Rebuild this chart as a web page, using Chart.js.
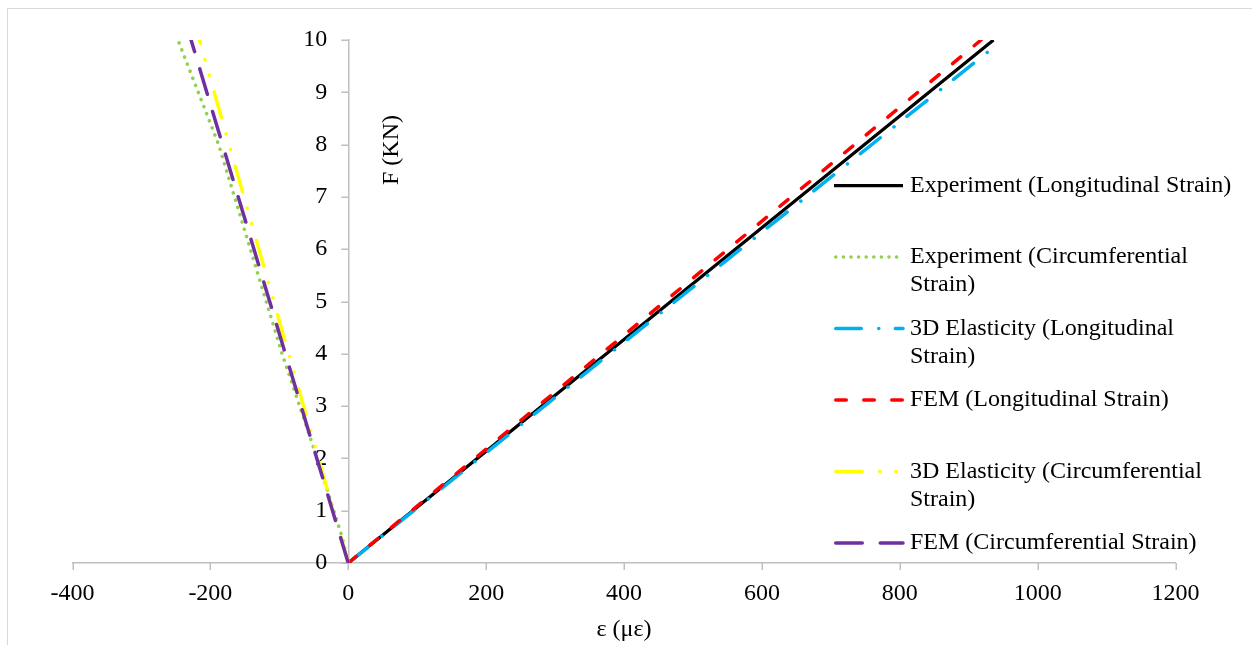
<!DOCTYPE html>
<html>
<head>
<meta charset="utf-8">
<title>F vs strain</title>
<script src="https://cdn.jsdelivr.net/npm/chart.js@4.4.1/dist/chart.umd.min.js"></script>
<style>
  html, body { margin: 0; padding: 0; background: #fff; }
  canvas { display: block; }
</style>
</head>
<body>
<canvas id="strainChart" width="1252" height="645"></canvas>
<script>
console.log("strain chart running");

// load in kN against strain in micro-strain
const expLongX = [0, 468, 936];
const expLongY = [0, 5, 10];
const expCircX = [0, -9, -45, -96, -142, -188, -247];
const expCircY = [0, 0.5, 2, 4, 6, 8, 10];
const elastLongX = [0, 474, 940];
const elastLongY = [0, 5, 9.9];
const femLongX = [0, 459, 918];
const femLongY = [0, 5, 10];
const elastCircX = [0, -108, -216];
const elastCircY = [0, 5, 10];
const femCircX = [0, -114, -228];
const femCircY = [0, 5, 10];

const xTicks = [-400, -200, 0, 200, 400, 600, 800, 1000, 1200];
const yTicks = [0, 1, 2, 3, 4, 5, 6, 7, 8, 9, 10];

const seriesNames = [
    ["Experiment (Longitudinal Strain)"],
    ["Experiment (Circumferential", "Strain)"],
    ["3D Elasticity (Longitudinal", "Strain)"],
    ["FEM (Longitudinal Strain)"],
    ["3D Elasticity (Circumferential", "Strain)"],
    ["FEM (Circumferential Strain)"]
];
const seriesX = [expLongX, expCircX, elastLongX, femLongX, elastCircX, femCircX];
const seriesY = [expLongY, expCircY, elastLongY, femLongY, elastCircY, femCircY];
const seriesColors = ["#000000", "#92D050", "#00B0F0", "#FF0000", "#FFFF00", "#7030A0"];
const seriesWidth = [3.25, 3.5, 3.5, 3.5, 3.5, 3.5];
const seriesDash = [
    [],
    [0.1, 7.5],
    [25.5, 17.5, 0.1, 16.5],
    [10.5, 17.5],
    [26.5, 17.5, 0.1, 16, 0.1, 17],
    [26.5, 18]
];

const FONT = "'Liberation Serif', 'Times New Roman', serif";
const AXIS_GREY = "#BFBFBF";

function toPoints(xs, ys){
    return xs.map((x, i) => ({x: x, y: ys[i]}));
}

let datasets = seriesNames.map((name, i) => ({
    label: name.join(" "),
    data: toPoints(seriesX[i], seriesY[i]),
    showLine: true,
    borderColor: seriesColors[i],
    backgroundColor: seriesColors[i],
    borderWidth: seriesWidth[i],
    borderDash: seriesDash[i],
    borderCapStyle: seriesDash[i].length ? "round" : "butt",
    pointRadius: 0,
    pointHoverRadius: 0,
    tension: 0,
    order: seriesNames.length - i
}));

// white page with the thin frame line on the left and top
const framePlugin = {
    id: "frame",
    beforeDraw(chart){
        let ctx = chart.ctx;
        ctx.save();
        ctx.fillStyle = "#fff";
        ctx.fillRect(0, 0, chart.width, chart.height);
        ctx.strokeStyle = "#D9D9D9";
        ctx.lineWidth = 1;
        ctx.strokeRect(7.5, 8.5, chart.width + 20, chart.height + 20);
        ctx.restore();
    }
};

// tick marks on both crossing axes, and the F labels left of the y axis
const ticksPlugin = {
    id: "crossTicks",
    beforeDatasetsDraw(chart){
        let ctx = chart.ctx;
        let xs = chart.scales.x, ys = chart.scales.y;
        let x0 = xs.getPixelForValue(0), y0 = ys.getPixelForValue(0);
        ctx.save();
        ctx.strokeStyle = AXIS_GREY;
        ctx.lineWidth = 1.5;
        ctx.beginPath();
        xs.ticks.forEach(t => {
            let px = Math.round(xs.getPixelForValue(t.value)) + 0.25;
            ctx.moveTo(px, y0);
            ctx.lineTo(px, y0 + 7);
        });
        ys.ticks.forEach(t => {
            let py = Math.round(ys.getPixelForValue(t.value)) + 0.25;
            ctx.moveTo(x0, py);
            ctx.lineTo(x0 - 7, py);
        });
        ctx.stroke();

        ctx.fillStyle = "#000";
        ctx.font = "24px " + FONT;
        ctx.textAlign = "right";
        ctx.textBaseline = "middle";
        ys.ticks.forEach(t => {
            ctx.fillText(String(t.value), x0 - 21, ys.getPixelForValue(t.value));
        });
        ctx.restore();
    }
};

// axis titles and the legend block on the right
const labelsPlugin = {
    id: "labels",
    afterDraw(chart){
        let ctx = chart.ctx;
        let area = chart.chartArea;
        ctx.save();
        ctx.fillStyle = "#000";
        ctx.font = "24px " + FONT;
        ctx.textAlign = "center";
        ctx.textBaseline = "middle";
        ctx.fillText("ε (με)", (area.left + area.right) / 2, 630);

        ctx.save();
        ctx.translate(392, 150);
        ctx.rotate(-Math.PI / 2);
        ctx.fillText("F (KN)", 0, 0);
        ctx.restore();

        let x0 = 834, x1 = 903, tx = 910, top = 185.5, step = 71.5;
        seriesNames.forEach((lines, i) => {
            let y = top + i * step;
            let w = seriesWidth[i];
            ctx.save();
            ctx.strokeStyle = seriesColors[i];
            ctx.lineWidth = w;
            ctx.setLineDash(seriesDash[i]);
            ctx.lineCap = seriesDash[i].length ? "round" : "butt";
            ctx.beginPath();
            ctx.moveTo(seriesDash[i].length ? x0 + w / 2 : x0, y);
            ctx.lineTo(x1, y);
            ctx.stroke();
            ctx.restore();

            ctx.textAlign = "left";
            lines.forEach((t, j) => {
                ctx.fillText(t, tx, y + j * 28);
            });
        });
        ctx.restore();
    }
};

let chart = new Chart(document.getElementById("strainChart"), {
    type: "scatter",
    data: { datasets: datasets },
    options: {
        responsive: false,
        animation: false,
        devicePixelRatio: 1,
        layout: {
            padding: { left: 72.5, right: 76.5, top: 40, bottom: 82 }
        },
        plugins: {
            legend: { display: false },
            tooltip: { enabled: false }
        },
        scales: {
            x: {
                type: "linear",
                position: { y: 0 },
                min: -400,
                max: 1200,
                afterBuildTicks: axis => { axis.ticks = xTicks.map(v => ({value: v})); },
                ticks: {
                    color: "#000",
                    font: { family: FONT, size: 24 },
                    padding: 8,
                    maxRotation: 0,
                    callback: v => String(v)
                },
                grid: { display: false },
                border: { display: true, color: AXIS_GREY, width: 1.5 }
            },
            y: {
                type: "linear",
                position: { x: 0 },
                min: 0,
                max: 10,
                afterBuildTicks: axis => { axis.ticks = yTicks.map(v => ({value: v})); },
                ticks: { display: false },
                grid: { display: false },
                border: { display: true, color: AXIS_GREY, width: 1.5 }
            }
        }
    },
    plugins: [framePlugin, ticksPlugin, labelsPlugin]
});
</script>
</body>
</html>
